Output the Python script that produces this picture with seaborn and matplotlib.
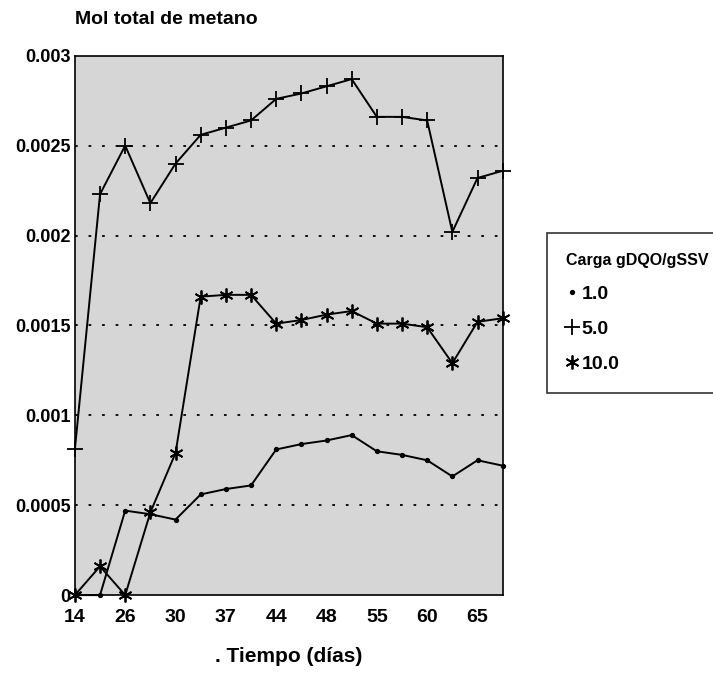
import matplotlib
matplotlib.use("Agg")
import matplotlib.pyplot as plt
from matplotlib.lines import Line2D
import numpy as np
import pandas as pd
import seaborn as sns

# datos (18 muestreos, etiqueta solo cada dos)
dias = ["14", "", "26", "", "30", "", "37", "", "44", "", "48", "", "55", "", "60", "", "65", ""]
carga_1 = [0, 0, 0.00047, 0.00045, 0.00042, 0.00056, 0.00059, 0.00061, 0.00081, 0.00084,
           0.00086, 0.00089, 0.00080, 0.00078, 0.00075, 0.00066, 0.00075, 0.00072]
carga_5 = [0.00081, 0.00223, 0.00250, 0.00218, 0.00240, 0.00256, 0.00260, 0.00264, 0.00276, 0.00279,
           0.00283, 0.00287, 0.00266, 0.00266, 0.00264, 0.00202, 0.00232, 0.00236]
carga_10 = [0, 0.00016, 0, 0.00046, 0.00079, 0.00166, 0.00167, 0.00167, 0.00151, 0.00153,
            0.00156, 0.00158, 0.00151, 0.00151, 0.00149, 0.00129, 0.00152, 0.00154]
series = ["1.0", "5.0", "10.0"]

pos = np.arange(len(dias))
df = pd.DataFrame({
    "pos": np.tile(pos, 3),
    "mol": carga_1 + carga_5 + carga_10,
    "carga": np.repeat(series, len(dias)),
})

sns.set_style("white")
plt.rcParams["font.family"] = ["Liberation Sans", "DejaVu Sans"]
plt.rcParams["font.weight"] = "bold"
plt.rcParams["text.color"] = "black"
plt.rcParams["xtick.color"] = "black"
plt.rcParams["ytick.color"] = "black"
plt.rcParams["axes.labelcolor"] = "black"

fig = plt.figure(figsize=(7.13, 6.88), dpi=100)
ax = fig.add_axes([0.105, 0.135, 0.600, 0.784])
ax.set_facecolor("#d6d6d6")

marcadores = {"1.0": ".", "5.0": "+", "10.0": (6, 2, 0)}
tamanos = {"1.0": 5, "5.0": 11, "10.0": 10}
for s in series:
    sub = df[df["carga"] == s]
    sns.lineplot(data=sub, x="pos", y="mol", ax=ax, color="black", lw=1.4,
                 marker=marcadores[s], markersize=tamanos[s], mew=1.3,
                 markeredgecolor="black", legend=False, clip_on=False, zorder=3)

# lineas de referencia punteadas
for yv in [0.0005, 0.001, 0.0015, 0.002, 0.0025]:
    ax.axhline(yv, color="black", lw=1.3, ls=(0, (1.5, 6)), zorder=2)

ax.set_xlim(0, len(dias) - 1)
ax.set_ylim(0, 0.003)
ax.set_xticks(pos)
ax.set_xticklabels(dias, fontsize=14)
ax.set_yticks([0, 0.0005, 0.001, 0.0015, 0.002, 0.0025, 0.003])
ax.set_yticklabels(["0", "0.0005", "0.001", "0.0015", "0.002", "0.0025", "0.003"], fontsize=13)
ax.tick_params(axis="y", length=0, pad=3)
ax.tick_params(axis="x", length=0, pad=10)
ax.set_xlabel(". Tiempo (días)", fontsize=15, fontweight="bold", labelpad=15)
ax.set_ylabel("")
for sp in ax.spines.values():
    sp.set_color("black")
    sp.set_linewidth(1.2)

fig.text(0.105, 0.972, "Mol total de metano", fontsize=14, fontweight="bold", ha="left", va="center")

handles = [Line2D([], [], color="black", ls="none", marker=marcadores[s],
                  markersize=tamanos[s], mew=1.3) for s in series]
leg = fig.legend(handles, series, title="Carga gDQO/gSSV", loc="upper left",
                 bbox_to_anchor=(0.753, 0.675), frameon=True, fancybox=False,
                 fontsize=14, title_fontsize=11.5, labelspacing=0.9, handlelength=0.6,
                 handletextpad=0.2, borderpad=1.0, alignment="left")
leg.get_frame().set_edgecolor("black")
leg.get_frame().set_linewidth(1.2)

fig.savefig("out.png", dpi=100)
